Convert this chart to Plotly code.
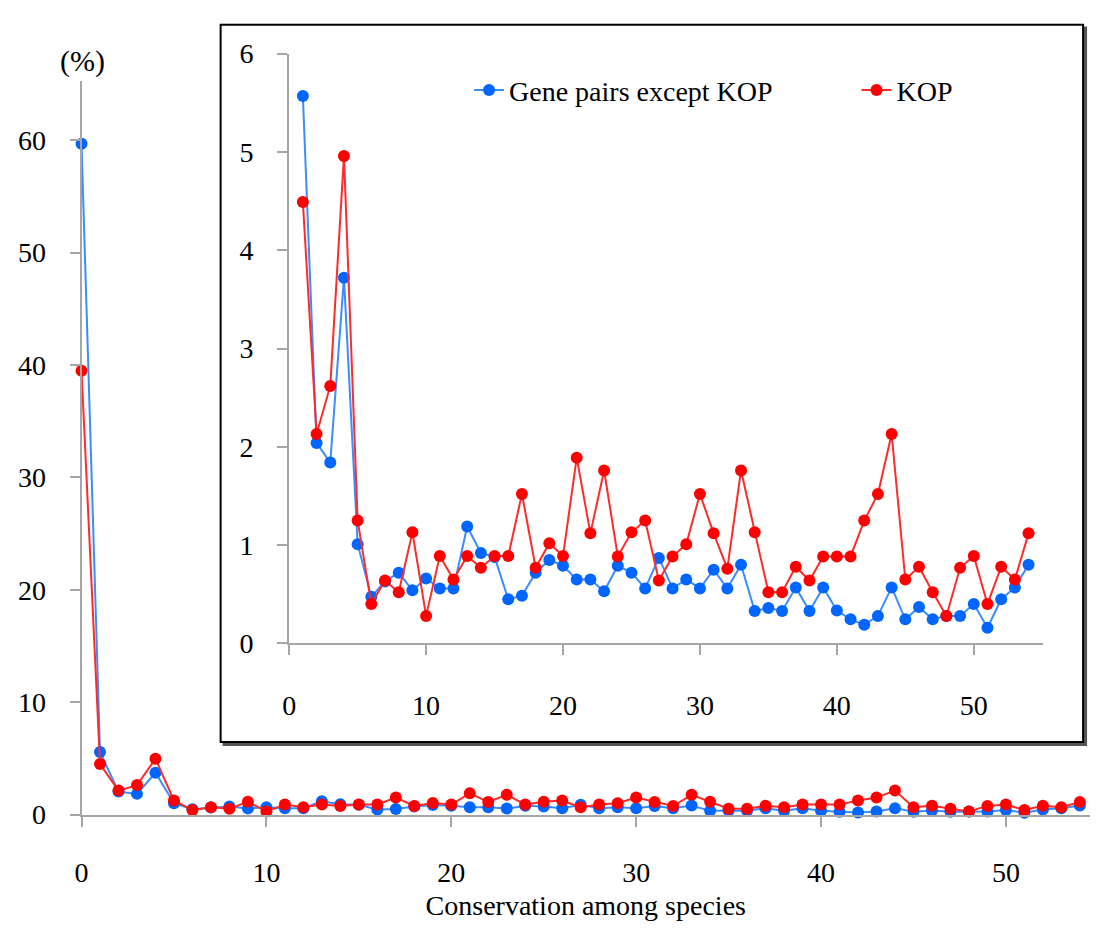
import plotly.graph_objects as go

# Conservation among species (number of species)
conservation = list(range(0, 55))

# Gene pairs except KOP (%)
gene_pairs = [59.7, 5.57, 2.04, 1.84, 3.72, 1.01, 0.475, 0.63, 0.72, 0.54,
              0.66, 0.56, 0.56, 1.19, 0.92, 0.88, 0.45, 0.485, 0.72, 0.85,
              0.79, 0.65, 0.65, 0.53, 0.79, 0.72, 0.56, 0.87, 0.56, 0.65,
              0.56, 0.75, 0.56, 0.80, 0.33, 0.36, 0.33, 0.57, 0.33, 0.57,
              0.335, 0.245, 0.19, 0.28, 0.57, 0.245, 0.37, 0.245, 0.28, 0.28,
              0.40, 0.16, 0.45, 0.57, 0.80]

# KOP (%)
kop = [39.5, 4.49, 2.13, 2.62, 4.96, 1.25, 0.40, 0.64, 0.52, 1.13,
       0.28, 0.89, 0.65, 0.89, 0.77, 0.89, 0.89, 1.52, 0.77, 1.02,
       0.89, 1.89, 1.12, 1.76, 0.885, 1.13, 1.25, 0.64, 0.885, 1.01,
       1.52, 1.12, 0.76, 1.76, 1.13, 0.52, 0.52, 0.78, 0.64, 0.885,
       0.885, 0.885, 1.25, 1.52, 2.13, 0.65, 0.78, 0.52, 0.28, 0.77,
       0.89, 0.40, 0.78, 0.65, 1.12]

main_xticks = [0, 10, 20, 30, 40, 50]
main_yticks = [0, 10, 20, 30, 40, 50, 60]
inset_xticks = [0, 10, 20, 30, 40, 50]
inset_yticks = [0, 1, 2, 3, 4, 5, 6]

names = ["Gene pairs except KOP", "KOP"]

BLUE_M, BLUE_L = "#0066ff", "#3b8cff"
RED_M, RED_L = "#ff0000", "#ff2a2a"
FONT = "Liberation Serif"
AX = "#a6a6a6"

W, H = 1096, 934

fig = go.Figure()

# main chart
fig.add_trace(go.Scatter(x=conservation, y=gene_pairs, mode="lines+markers",
                         line=dict(color=BLUE_L, width=2),
                         marker=dict(color=BLUE_M, size=12),
                         xaxis="x", yaxis="y", showlegend=False, cliponaxis=False))
fig.add_trace(go.Scatter(x=conservation, y=kop, mode="lines+markers",
                         line=dict(color=RED_L, width=2),
                         marker=dict(color=RED_M, size=12),
                         xaxis="x", yaxis="y", showlegend=False, cliponaxis=False))

# inset chart (without the first category)
fig.add_trace(go.Scatter(x=conservation[1:], y=gene_pairs[1:], mode="lines+markers",
                         name=names[0],
                         line=dict(color=BLUE_L, width=2),
                         marker=dict(color=BLUE_M, size=12),
                         xaxis="x2", yaxis="y2", legend="legend", cliponaxis=False))
fig.add_trace(go.Scatter(x=conservation[1:], y=kop[1:], mode="lines+markers",
                         name=names[1],
                         line=dict(color=RED_L, width=2),
                         marker=dict(color=RED_M, size=12),
                         xaxis="x2", yaxis="y2", legend="legend2", cliponaxis=False))

def px(x):
    return x / W

def py(y):
    return (H - y) / H

axis_common = dict(showgrid=False, zeroline=False, showline=True, linecolor=AX,
                   linewidth=2, ticks="outside", ticklen=10, tickcolor=AX, tickwidth=2,
                   tickfont=dict(family=FONT, size=28, color="black"))

fig.update_layout(
    width=W, height=H, autosize=False,
    margin=dict(l=0, r=0, t=0, b=0),
    paper_bgcolor="white", plot_bgcolor="rgba(0,0,0,0)",
    font=dict(family=FONT, color="black"),
    xaxis=dict(domain=[px(75), px(1090)], range=[0, 54.55], tickvals=main_xticks,
               anchor="y", ticklabelstandoff=22,
               title=dict(text="Conservation among species", font=dict(family=FONT, size=28),
                          standoff=8),
               **axis_common),
    yaxis=dict(domain=[py(827), py(68)], range=[0, 65.3], tickvals=main_yticks,
               anchor="x", ticklabelstandoff=18, **axis_common),
    xaxis2=dict(domain=[px(284), px(1043)], range=[0, 55.08], tickvals=inset_xticks,
                anchor="y2", ticklabelstandoff=26, **axis_common),
    yaxis2=dict(domain=[py(650), py(40)], range=[0, 6], tickvals=inset_yticks,
                anchor="x2", ticklabelstandoff=18, **axis_common),
    legend=dict(x=px(465), y=py(78), xanchor="left", yanchor="middle",
                orientation="h", bgcolor="rgba(0,0,0,0)",
                font=dict(family=FONT, size=28, color="black")),
    legend2=dict(x=px(855), y=py(78), xanchor="left", yanchor="middle",
                 orientation="h", bgcolor="rgba(0,0,0,0)",
                 font=dict(family=FONT, size=28, color="black")),
    shapes=[
        # shadow of the inset frame
        dict(type="rect", xref="paper", yref="paper",
             x0=px(218), x1=px(1086), y0=py(755), y1=py(13),
             line=dict(color="#555555", width=2), fillcolor="#555555", layer="below"),
        dict(type="rect", xref="paper", yref="paper",
             x0=px(215), x1=px(1083), y0=py(752), y1=py(10),
             line=dict(color="black", width=2), fillcolor="white", layer="below"),
    ],
    annotations=[
        dict(text="(%)", xref="paper", yref="paper", x=px(76), y=py(48),
             xanchor="center", yanchor="middle", showarrow=False,
             font=dict(family=FONT, size=30, color="black")),
    ],
)

fig.write_html("out.html")
